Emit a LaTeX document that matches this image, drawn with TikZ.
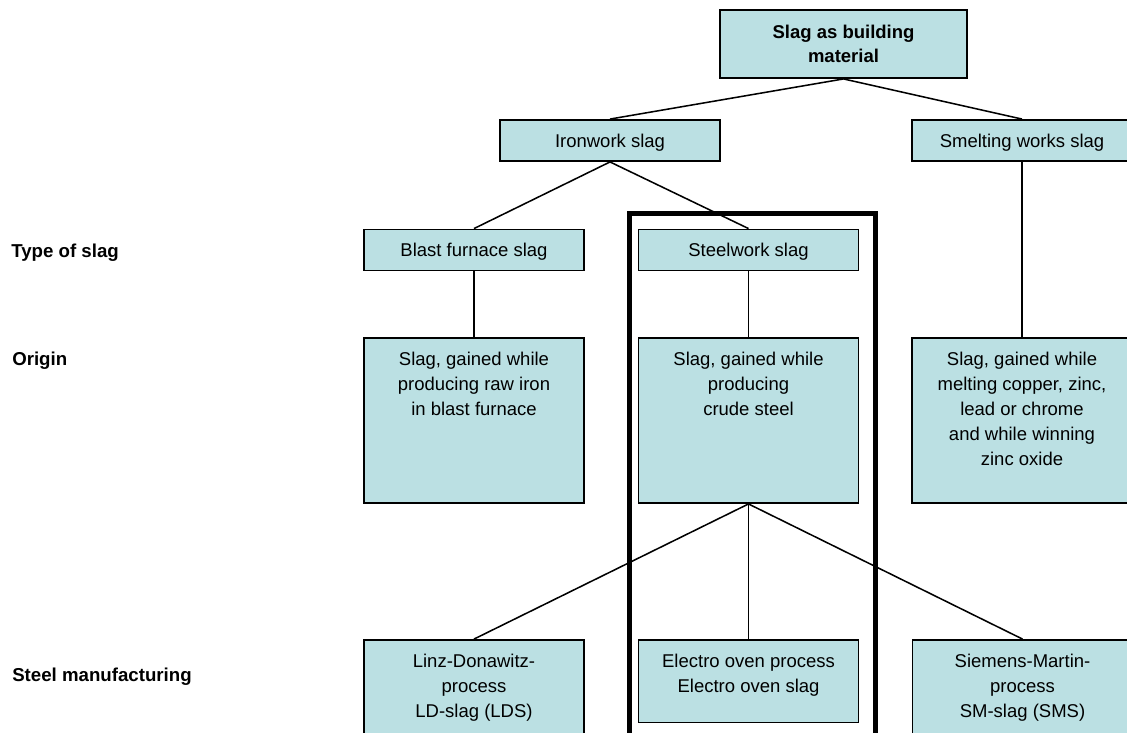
\documentclass[tikz,border=0pt]{standalone}
\usepackage{fontspec}
\setmainfont{Liberation Sans}
\definecolor{boxfill}{HTML}{BBE0E3}
\begin{document}
\begin{tikzpicture}[x=0.75pt,y=-0.75pt,
  every node/.style={font=\fontsize{13.875pt}{18.75pt}\selectfont},
  box/.style={draw=black, line width=1.4pt, fill=boxfill, inner sep=0pt,
    minimum width=165pt, minimum height=30.75pt, text height=9.9pt, text depth=0pt},
  tallbox/.style={draw=black, line width=1.4pt, fill=boxfill, inner sep=0pt,
    minimum width=165pt},
  toptext/.style={anchor=north, inner sep=0pt, yshift=-11.4pt, align=center},
  sidelabel/.style={anchor=base west, inner sep=0pt, font=\fontsize{14pt}{18.75pt}\selectfont\bfseries},
  conn/.style={draw=black, line width=1.15pt},
  frame/.style={draw=black, line width=3.4pt}]
\useasboundingbox (0,0) rectangle (1127,732);
\clip (0,0) rectangle (1127,732);

% side labels
\node[sidelabel] (ltype) at (11,257) {Type of slag};
\node[sidelabel] (lorig) at (12,365) {Origin};
\node[sidelabel] (lsteel) at (12,681) {Steel manufacturing};

% top level
\node[draw=black, line width=1.4pt, fill=boxfill, inner sep=0pt,
  minimum width=185.25pt, minimum height=51pt, align=center,
  font=\fontsize{13.875pt}{18pt}\selectfont\bfseries] (top) at (843.5,44) {Slag as building\\material};

\node[box] (iron) at (610,140.5) {Ironwork slag};
\node[box] (smelt) at (1022,140.5) {Smelting works slag};

\node[box] (blast) at (474,250) {Blast furnace slag};
\node[box] (steel) at (748.5,250) {Steelwork slag};

% origin boxes
\node[tallbox, minimum height=123.75pt,
  label={[toptext]90:{Slag, gained while\\producing raw iron\\in blast furnace}}] (oblast) at (474,420.5) {};
\node[tallbox, minimum height=123.75pt,
  label={[toptext]90:{Slag, gained while\\producing\\crude steel}}] (osteel) at (748.5,420.5) {};
\node[tallbox, minimum height=123.75pt,
  label={[toptext]90:{Slag, gained while\\melting copper, zinc,\\lead or chrome\\and while winning\\zinc oxide}}] (osmelt) at (1022,420.5) {};

% bottom boxes
\node[tallbox, minimum height=71.25pt,
  label={[toptext]90:{Linz-Donawitz-\\process\\LD-slag (LDS)}}] (ld) at (474,687.5) {};
\node[tallbox, minimum height=61.9pt,
  label={[toptext]90:{Electro oven process\\Electro oven slag}}] (eo) at (748.5,681.25) {};
\node[tallbox, minimum height=71.25pt,
  label={[toptext]90:{Siemens-Martin-\\process\\SM-slag (SMS)}}] (sm) at (1022.5,687.5) {};

% connectors
\draw[conn] (top.south) -- (iron.north);
\draw[conn] (top.south) -- (smelt.north);
\draw[conn] (iron.south) -- (blast.north);
\draw[conn] (iron.south) -- (steel.north);
\draw[conn] (blast.south) -- (oblast.north);
\draw[conn] (steel.south) -- (osteel.north);
\draw[conn] (smelt.south) -- (osmelt.north);
\draw[conn] (osteel.south) -- (ld.north);
\draw[conn] (osteel.south) -- (eo.north);
\draw[conn] (osteel.south) -- (sm.north);

% highlight frame
\draw[frame] (629.5,213.5) rectangle (875.5,736);
\end{tikzpicture}
\end{document}
